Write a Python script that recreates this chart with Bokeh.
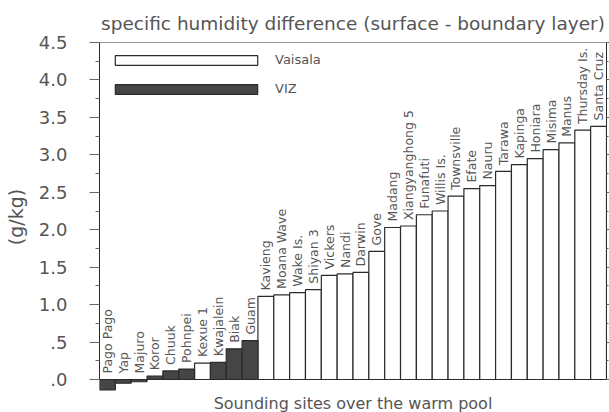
import math
from bokeh.plotting import figure
from bokeh.models import (ColumnDataSource, FactorRange, Range1d, LinearAxis,
                          FixedTicker, Legend, LegendItem, Span, Title)
from bokeh.embed import file_html
from bokeh.resources import INLINE
from bokeh.core.properties import value

# ---------------- data ----------------
sites = ["Pago Pago", "Yap", "Majuro", "Koror", "Chuuk", "Pohnpei", "Kexue 1",
         "Kwajalein", "Biak", "Guam", "Kavieng", "Moana Wave", "Wake Is.",
         "Shiyan 3", "Vickers", "Nandi", "Darwin", "Gove", "Madang",
         "Xiangyanghong 5", "Funafuti", "Willis Is.", "Townsville", "Efate",
         "Nauru", "Tarawa", "Kapinga", "Honiara", "Misima", "Manus",
         "Thursday Is.", "Santa Cruz"]
diff = [-0.14, -0.05, -0.03, 0.045, 0.115, 0.14, 0.22, 0.23, 0.41, 0.52,
        1.11, 1.13, 1.16, 1.20, 1.39, 1.41, 1.43, 1.71, 2.03, 2.05,
        2.20, 2.25, 2.45, 2.55, 2.59, 2.78, 2.87, 2.95, 3.07, 3.16,
        3.33, 3.38]
instrument = ["VIZ", "VIZ", "VIZ", "VIZ", "VIZ", "VIZ", "Vaisala", "VIZ", "VIZ", "VIZ"] + ["Vaisala"] * 22

y_ticks = [0.0, 0.5, 1.0, 1.5, 2.0, 2.5, 3.0, 3.5, 4.0, 4.5]
y_tick_labels = [".0", ".5", "1.0", "1.5", "2.0", "2.5", "3.0", "3.5", "4.0", "4.5"]
y_minor = [0.25, 0.75, 1.25, 1.75, 2.25, 2.75, 3.25, 3.75, 4.25]

title_text = "specific humidity difference (surface - boundary layer)"
x_label = "Sounding sites over the warm pool"
y_label = "(g/kg)"

# ---------------- styling ----------------
FONT = "DejaVu Sans"
TXT = "#555555"
LINE = "#2a2a2a"
DARK = "#454545"

p = figure(width=609, height=412,
           x_range=FactorRange(factors=sites, range_padding=0),
           y_range=Range1d(-0.16, 4.5),
           x_axis_location=None, y_axis_location=None,
           output_backend="svg", toolbar_location=None,
           min_border_left=99, min_border_right=3,
           min_border_top=42, min_border_bottom=21,
           outline_line_color=None, background_fill_color="white",
           border_fill_color="white")
p.xgrid.visible = False
p.ygrid.visible = False

p.title.text = title_text
p.title.align = "center"
p.title.text_font = FONT
p.title.text_font_size = "18.5px"
p.title.text_font_style = "normal"
p.title.text_color = TXT
p.title.standoff = 17

def subset(kind):
    idx = [i for i, k in enumerate(instrument) if k == kind]
    return ColumnDataSource(dict(site=[sites[i] for i in idx],
                                 diff=[diff[i] for i in idx]))

r_v = p.vbar(x="site", top="diff", bottom=0, width=1, source=subset("Vaisala"),
             fill_color="white", line_color=LINE, line_width=1.2)
r_z = p.vbar(x="site", top="diff", bottom=0, width=1, source=subset("VIZ"),
             fill_color=DARK, line_color=LINE, line_width=1.2)

lbl = ColumnDataSource(dict(site=sites, y=[max(v, 0) for v in diff]))
p.text(x="site", y="y", text="site", source=lbl, angle=math.pi / 2,
       text_align="left", text_baseline="middle", y_offset=-6,
       text_font=value(FONT), text_font_size="12.5px", text_color=TXT)

ticker = FixedTicker(ticks=y_ticks, minor_ticks=y_minor)
yax = LinearAxis(ticker=ticker, bounds=(0, 4.5),
                 major_label_overrides=dict(zip(y_ticks, y_tick_labels)),
                 axis_label=y_label, axis_label_standoff=9,
                 axis_label_text_font=FONT, axis_label_text_font_size="19px",
                 axis_label_text_font_style="normal", axis_label_text_color=TXT,
                 major_label_text_font=FONT, major_label_text_font_size="18px",
                 major_label_text_color=TXT, major_label_standoff=22,
                 axis_line_color=LINE, major_tick_line_color="#666666",
                 minor_tick_line_color="#666666",
                 major_tick_in=0, major_tick_out=10, minor_tick_in=0, minor_tick_out=4)
p.add_layout(yax, "left")

yax2 = LinearAxis(ticker=ticker, bounds=(0, 4.5),
                  major_label_text_font_size="0px", major_label_standoff=0,
                  axis_line_color=LINE, major_tick_line_color="#666666",
                  minor_tick_line_color="#666666",
                  major_tick_in=0, major_tick_out=3, minor_tick_in=0, minor_tick_out=2)
p.add_layout(yax2, "right")

# top edge of the frame
p.add_layout(Span(location=y_ticks[-1], dimension="width", line_color=LINE, line_width=1))

p.add_layout(Title(text=x_label, align="center", text_font=FONT,
                   text_font_size="16px", text_font_style="normal",
                   text_color=TXT, standoff=0), "below")

legend = Legend(items=[LegendItem(label="Vaisala", renderers=[r_v]),
                       LegendItem(label="VIZ", renderers=[r_z])],
                location=(-2, 295), orientation="vertical",
                glyph_width=178, glyph_height=12, label_height=12,
                spacing=14, label_standoff=0, padding=0, margin=0,
                border_line_color=None, background_fill_alpha=0,
                label_text_font=FONT, label_text_font_size="13px",
                label_text_color=TXT)
p.add_layout(legend)

open("out.html", "w").write(file_html(p, INLINE))
